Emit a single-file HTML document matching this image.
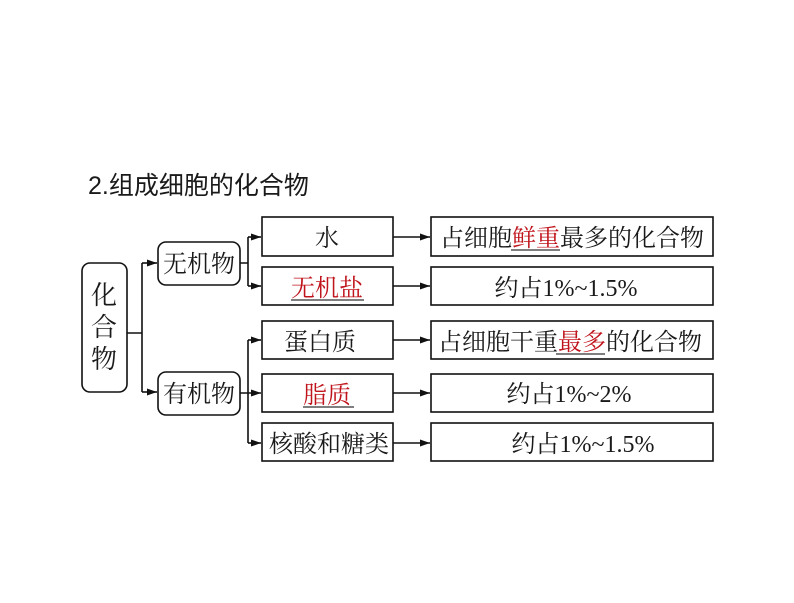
<!DOCTYPE html>
<html><head><meta charset="utf-8"><style>
html,body{margin:0;padding:0;background:#fff;}
svg{display:block;}
text{font-family:"Liberation Serif","Noto Serif CJK SC","Noto Sans CJK SC",serif;fill:#1a1a1a;}
</style></head><body>
<svg width="794" height="603" viewBox="0 0 794 603" xmlns="http://www.w3.org/2000/svg">
<defs><marker id="a" markerWidth="10" markerHeight="8" refX="10" refY="4" orient="auto" markerUnits="userSpaceOnUse"><path d="M0,0.5 L10,4 L0,7.5z" fill="#111"/></marker></defs>
<text x="88" y="194" font-size="25" style="font-family:'Liberation Sans','Noto Sans CJK SC',sans-serif">2.组成细胞的化合物</text>
<g fill="none" stroke="#111" stroke-width="1.6">
<rect x="82" y="263" width="45" height="129" rx="8"/>
<rect x="158" y="242" width="82" height="43" rx="8"/>
<rect x="158" y="372" width="82" height="43" rx="8"/>
<rect x="262" y="217" width="131" height="39"/>
<rect x="262" y="267" width="131" height="38"/>
<rect x="262" y="321" width="131" height="38"/>
<rect x="262" y="374" width="131" height="38"/>
<rect x="262" y="423" width="131" height="38"/>
<rect x="431" y="217" width="282" height="39"/>
<rect x="431" y="267" width="282" height="38"/>
<rect x="431" y="321" width="282" height="38"/>
<rect x="431" y="374" width="282" height="38"/>
<rect x="431" y="423" width="282" height="38"/>
<path d="M127 333 H142 M142 263 V392"/>
<path d="M142 263 H157" marker-end="url(#a)"/>
<path d="M142 392 H157" marker-end="url(#a)"/>
<path d="M240 263 H248 M248 237 V286"/>
<path d="M248 237 H261" marker-end="url(#a)"/>
<path d="M248 286 H261" marker-end="url(#a)"/>
<path d="M240 393 H261" marker-end="url(#a)"/>
<path d="M248 340 V443"/>
<path d="M248 340 H261" marker-end="url(#a)"/>
<path d="M248 443 H261" marker-end="url(#a)"/>
<path d="M393 237 H430" marker-end="url(#a)"/>
<path d="M393 286 H430" marker-end="url(#a)"/>
<path d="M393 340 H430" marker-end="url(#a)"/>
<path d="M393 393 H430" marker-end="url(#a)"/>
<path d="M393 443 H430" marker-end="url(#a)"/>
</g>
<g font-size="24" text-anchor="middle">
<text x="104" y="304" font-size="26">化</text><text x="104" y="336" font-size="26">合</text><text x="104" y="368" font-size="26">物</text>
<text x="199" y="272">无机物</text>
<text x="199" y="402">有机物</text>
<text x="327" y="246">水</text>
<text x="327" y="296" style="fill:#c0141c">无机盐</text>
<text x="320" y="350">蛋白质</text>
<text x="327" y="403" style="fill:#c0141c">脂质</text>
<text x="329" y="452">核酸和糖类</text>
<text x="572" y="246">占细胞<tspan style="fill:#c0141c">鲜重</tspan>最多的化合物</text>
<text x="566" y="296">约占1%~1.5%</text>
<text x="570" y="350">占细胞干重<tspan style="fill:#c0141c">最多</tspan>的化合物</text>
<text x="569" y="402">约占1%~2%</text>
<text x="583" y="452">约占1%~1.5%</text>
</g>
<g stroke="#333" stroke-width="1.3">
<path d="M291 300 H364"/><path d="M303 407 H354"/>
<path d="M511 250 H560"/><path d="M556 354 H605"/>
</g>
</svg>
</body></html>
